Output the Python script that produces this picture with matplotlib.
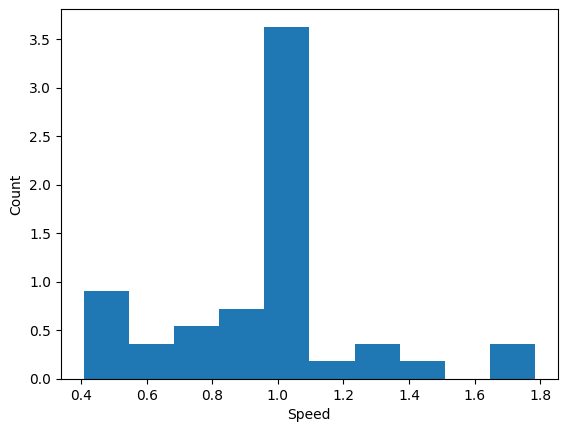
import numpy as np
import matplotlib
matplotlib.use("Agg")
import matplotlib.pyplot as plt

speed_min = 0.407
speed_max = 1.785
counts = [5, 2, 3, 4, 20, 1, 2, 1, 0, 2]

edges = np.linspace(speed_min, speed_max, len(counts) + 1)

fig, ax = plt.subplots(figsize=(5.67, 4.32), dpi=100)
fig.subplots_adjust(left=0.1076, right=0.9836, top=0.9785, bottom=0.1227)
ax.hist(edges[:-1], bins=edges, weights=counts, density=True, color="#1f77b4")
ax.set_xlabel("Speed")
ax.set_ylabel("Count")
fig.savefig("out.png", dpi=100)
